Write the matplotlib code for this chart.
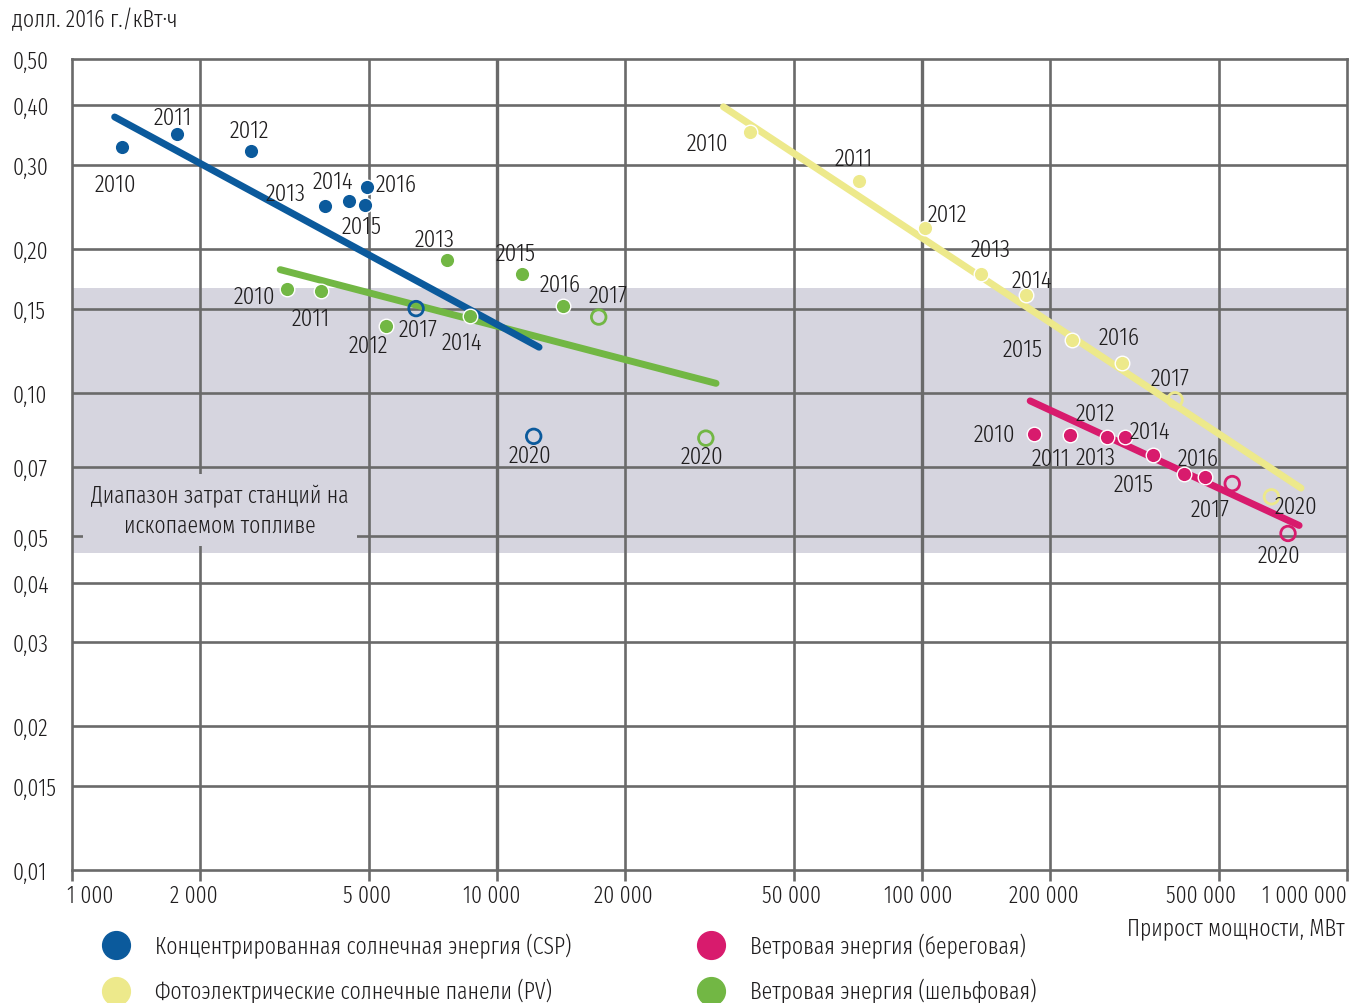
import matplotlib.pyplot as plt
from matplotlib.lines import Line2D
from matplotlib.patches import Rectangle
from matplotlib.transforms import ScaledTranslation
from matplotlib.ticker import FixedLocator, NullLocator, FixedFormatter

plt.rcParams['font.family'] = ['Fira Sans Extra Condensed', 'DejaVu Sans']
plt.rcParams['font.weight'] = 300

TXT = '#1f1d1e'
GRID = '#6a6a6a'
BAND = '#d6d5df'

years = [2010, 2011, 2012, 2013, 2014, 2015, 2016, 2017, 2020]
# 2017 and 2020 are forecasts -> drawn as open rings
n_actual = 7

# concentrated solar power
csp_mw = [1310, 1770, 2640, 3940, 4480, 4890, 4950, 6450, 12200]
csp_cost = [0.327, 0.348, 0.321, 0.246, 0.252, 0.247, 0.270, 0.150, 0.081]
csp_trend_mw = [1260, 12560]
csp_trend_cost = [0.378, 0.1245]
csp_lbl = [(-6, 37), (-5, -17), (-2, -21), (-39, -13), (-16, -20), (-3, 21), (29, -3), (2, 21), (-4, 19)]

# solar PV
pv_mw = [39400, 71200, 101400, 137900, 176100, 225300, 296000, 393900, 664000]
pv_cost = [0.351, 0.278, 0.221, 0.177, 0.160, 0.129, 0.1155, 0.0966, 0.0605]
pv_trend_mw = [34100, 779500]
pv_trend_cost = [0.397, 0.0631]
pv_lbl = [(-43, 11), (-5, -22), (23, -14), (9, -25), (6, -15), (-49, 9), (-3, -26), (-5, -22), (25, 9)]

# onshore wind
on_mw = [183600, 222900, 272200, 300700, 349300, 413000, 463500, 537000, 726500]
on_cost = [0.0821, 0.0814, 0.0809, 0.0806, 0.0741, 0.0677, 0.0666, 0.0645, 0.0507]
on_trend_mw = [179700, 771500]
on_trend_cost = [0.0961, 0.0527]
on_lbl = [(-40, 1), (-19, 23), (-11, -23), (-30, 20), (-3, -24), (-50, 11), (-7, -19), (-22, 26), (-9, 22)]

# offshore wind
off_mw = [3210, 3860, 5480, 7630, 8640, 11450, 14300, 17350, 31000]
off_cost = [0.165, 0.163, 0.138, 0.190, 0.145, 0.177, 0.152, 0.144, 0.0803]
off_trend_mw = [3090, 32760]
off_trend_cost = [0.181, 0.1046]
off_lbl = [(-33, 7), (-10, 27), (-18, 19), (-12, -20), (-8, 27), (-6, -21), (-3, -22), (9, -22), (-4, 18)]

fossil_lo, fossil_hi = 0.0462, 0.166

yticks = [0.01, 0.015, 0.02, 0.03, 0.04, 0.05, 0.07, 0.10, 0.15, 0.20, 0.30, 0.40, 0.50]
ylabels = ['0,01', '0,015', '0,02', '0,03', '0,04', '0,05', '0,07', '0,10', '0,15', '0,20', '0,30', '0,40', '0,50']
xticks = [1000, 2000, 5000, 10000, 20000, 50000, 100000, 200000, 500000, 1000000]
xlabels = ['1 000', '2 000', '5 000', '10 000', '20 000', '50 000', '100 000', '200 000', '500 000', '1 000 000']
# horizontal nudge (px) of a few x tick labels so crowded ones don't touch
xlabel_shift = [-5, -6, -2, -5, -2, -3, -4, -6, -18, 0]

series = [
    ('Концентрированная солнечная энергия (CSP)', '#0b5a9c', csp_mw, csp_cost, csp_trend_mw, csp_trend_cost, csp_lbl, 6),
    ('Фотоэлектрические солнечные панели (PV)', '#ede98b', pv_mw, pv_cost, pv_trend_mw, pv_trend_cost, pv_lbl, 5),
    ('Ветровая энергия (береговая)', '#d81b6d', on_mw, on_cost, on_trend_mw, on_trend_cost, on_lbl, 5),
    ('Ветровая энергия (шельфовая)', '#72b744', off_mw, off_cost, off_trend_mw, off_trend_cost, off_lbl, 5),
]

fig = plt.figure(figsize=(13.54, 10.04), dpi=100)
ax = fig.add_axes([72 / 1354, 1 - 871 / 1004, 1275 / 1354, 811 / 1004])
ax.set_xscale('log')
ax.set_yscale('log')
ax.set_xlim(1000, 1000000)
ax.set_ylim(0.01, 0.5)

ax.axhspan(fossil_lo, fossil_hi, color=BAND, lw=0, zorder=0)

for y in yticks[1:-1]:
    ax.axhline(y, color=GRID, lw=1.9, zorder=1)
for x in xticks[1:-1]:
    lw = 2.4 if x in (10000, 100000) else 1.9
    ax.axvline(x, color=GRID, lw=lw, zorder=1)
for s in ax.spines.values():
    s.set_color(GRID)
    s.set_linewidth(1.9)

# caption for the fossil-fuel band, on a patch that hides the grid behind it
ax.add_patch(Rectangle((0.0086, 0.3995), 0.215, 0.089, transform=ax.transAxes,
                       facecolor=BAND, edgecolor='none', zorder=2))
ax.text(0.116, 0.4439, 'Диапазон затрат станций на\nископаемом топливе', transform=ax.transAxes,
        ha='center', va='center', fontsize=17, color=TXT, linespacing=1.35, zorder=3)

for name, col, xs, ys, tx, ty, offs, z in series:
    ax.plot(tx, ty, color=col, lw=5, solid_capstyle='round', zorder=z)
    ax.scatter(xs[:n_actual], ys[:n_actual], s=110, color=col, edgecolors='white', linewidths=1.0, zorder=8)
    ax.scatter(xs[n_actual:], ys[n_actual:], s=110, facecolors='none', edgecolors=col, linewidths=2.0, zorder=8)
    for yr, x, y, (dx, dy) in zip(years, xs, ys, offs):
        ax.annotate(str(yr), (x, y), xytext=(dx, -dy), textcoords='offset pixels',
                    ha='center', va='center', fontsize=18, color=TXT, zorder=9)

ax.xaxis.set_major_locator(FixedLocator(xticks))
ax.xaxis.set_major_formatter(FixedFormatter(xlabels))
ax.xaxis.set_minor_locator(NullLocator())
ax.yaxis.set_major_locator(FixedLocator(yticks))
ax.yaxis.set_major_formatter(FixedFormatter(ylabels))
ax.yaxis.set_minor_locator(NullLocator())
ax.tick_params(axis='x', length=8, width=1.9, color=GRID, pad=2, labelsize=17, labelcolor=TXT)
ax.tick_params(axis='y', length=0, pad=43, labelsize=17, labelcolor=TXT)
for t in ax.get_yticklabels():
    t.set_ha('left')
xl = ax.get_xticklabels()
xl[0].set_ha('left')
xl[-1].set_ha('right')
for t, dx in zip(xl, xlabel_shift):
    t.set_transform(t.get_transform() + ScaledTranslation(dx / 100, 0, fig.dpi_scale_trans))

fig.text(12 / 1354, 1 - 20 / 1004, 'долл. 2016 г./кВт·ч', ha='left', va='center', fontsize=17, color=TXT)
fig.text(1345 / 1354, 1 - 928 / 1004, 'Прирост мощности, МВт', ha='right', va='center', fontsize=17, color=TXT)

handles = [Line2D([], [], ls='none', marker='o', ms=20, color=s[1], label=s[0]) for s in series]
fig.legend(handles=handles, ncol=2, loc='upper left', bbox_to_anchor=(102 / 1354, 1 - 934 / 1004),
           frameon=False, fontsize=17, labelcolor=TXT, handlelength=1.2, handletextpad=1.06,
           columnspacing=5.3, labelspacing=0.86, borderaxespad=0, borderpad=0)

fig.savefig('out.png', dpi=100)
